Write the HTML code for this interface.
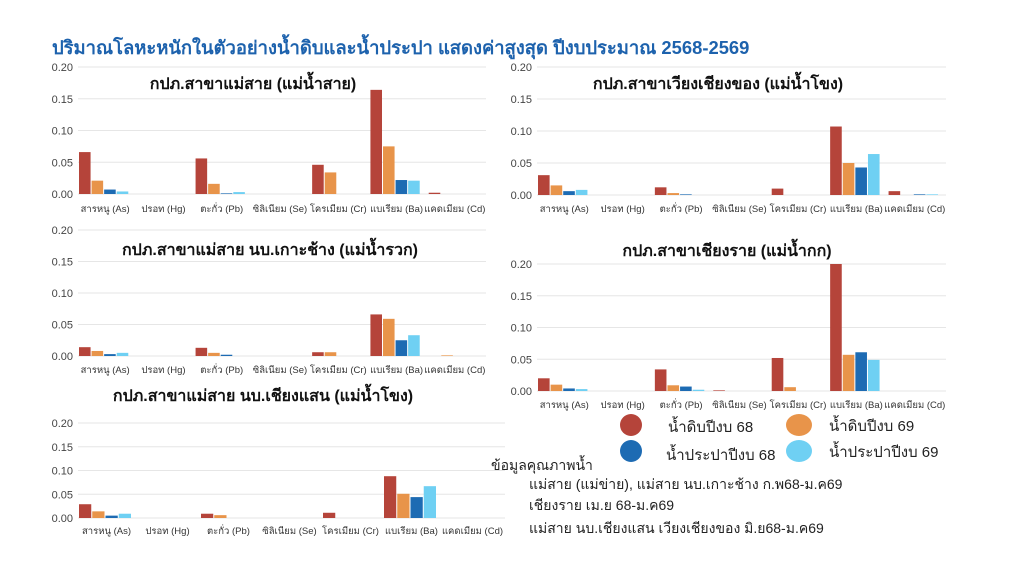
<!DOCTYPE html>
<html><head><meta charset="utf-8"><style>
body{margin:0;width:1024px;height:576px;background:#fff;overflow:hidden;font-family:"Liberation Sans",sans-serif;position:relative}
.t{position:absolute;white-space:nowrap}
</style></head><body>
<div class="t" style="left:52px;top:34px;font-size:18.4px;font-weight:bold;color:#1d62ad">ปริมาณโลหะหนักในตัวอย่างน้ำดิบและน้ำประปา แสดงค่าสูงสุด ปีงบประมาณ 2568-2569</div>
<svg id="s" width="1024" height="576" style="position:absolute;left:0;top:0"></svg>
<div class="t" style="left:620px;top:414px;width:22px;height:22px;border-radius:50%;background:#b5443a"></div>
<div class="t" style="left:668px;top:415px;font-size:15px;color:#222">น้ำดิบปีงบ 68</div>
<div class="t" style="left:786px;top:414px;width:26px;height:22px;border-radius:50%;background:#e8944a"></div>
<div class="t" style="left:829px;top:414px;font-size:15px;color:#222">น้ำดิบปีงบ 69</div>
<div class="t" style="left:620px;top:440px;width:22px;height:22px;border-radius:50%;background:#1d6bb3"></div>
<div class="t" style="left:666px;top:443px;font-size:15px;color:#222">น้ำประปาปีงบ 68</div>
<div class="t" style="left:786px;top:440px;width:26px;height:22px;border-radius:50%;background:#6fd0f3"></div>
<div class="t" style="left:829px;top:440px;font-size:15px;color:#222">น้ำประปาปีงบ 69</div>
<div class="t" style="left:491px;top:455px;font-size:14px;color:#222">ข้อมูลคุณภาพน้ำ</div>
<div class="t" style="left:529px;top:474px;font-size:14px;color:#222">แม่สาย (แม่ข่าย), แม่สาย นบ.เกาะช้าง ก.พ68-ม.ค69</div>
<div class="t" style="left:529px;top:495px;font-size:14px;color:#222">เชียงราย เม.ย 68-ม.ค69</div>
<div class="t" style="left:529px;top:518px;font-size:14px;color:#222">แม่สาย นบ.เชียงแสน เวียงเชียงของ มิ.ย68-ม.ค69</div>
<script>
const cols=["#b5443a","#e8944a","#1d6bb3","#6fd0f3"];
const cats=["สารหนู (As)","ปรอท (Hg)","ตะกั่ว (Pb)","ซิลิเนียม (Se)","โครเมียม (Cr)","แบเรียม (Ba)","แคดเมียม (Cd)"];
const charts=[
{x0:78,x1:486,y0:194,y20:67,ly:212,title:"กปภ.สาขาแม่สาย (แม่น้ำสาย)",tx:253,ty:89,
d:[[.066,.021,.007,.004],[0,0,0,0],[.056,.016,.001,.003],[0,0,0,0],[.046,.034,0,0],[.164,.075,.022,.021],[.002,0,0,0]]},
{x0:537,x1:946,y0:195,y20:67,ly:212,title:"กปภ.สาขาเวียงเชียงของ (แม่น้ำโขง)",tx:718,ty:89,
d:[[.031,.015,.006,.008],[0,0,0,0],[.012,.003,.001,0],[0,0,0,0],[.010,0,0,0],[.107,.050,.043,.064],[.006,0,.001,.001]]},
{x0:78,x1:486,y0:356,y20:230,ly:373,title:"กปภ.สาขาแม่สาย นบ.เกาะช้าง (แม่น้ำรวก)",tx:270,ty:255,
d:[[.014,.008,.003,.005],[0,0,0,0],[.013,.005,.002,0],[0,0,0,0],[.006,.006,0,0],[.066,.059,.025,.033],[0,.001,0,0]]},
{x0:537,x1:946,y0:391,y20:264,ly:408,title:"กปภ.สาขาเชียงราย (แม่น้ำกก)",tx:727,ty:256,
d:[[.020,.010,.004,.003],[0,0,0,0],[.034,.009,.007,.002],[.001,0,0,0],[.052,.006,0,0],[.2,.057,.061,.049],[0,0,0,0]]},
{x0:78,x1:505,y0:518,y20:423,ly:534,title:"กปภ.สาขาแม่สาย นบ.เชียงแสน (แม่น้ำโขง)",tx:263,ty:401,
d:[[.029,.014,.005,.009],[0,0,0,0],[.009,.006,0,0],[0,0,0,0],[.011,0,0,0],[.088,.051,.044,.067],[0,0,0,0]]}
];
let h="";
for(const c of charts){
 const H=c.y0-c.y20, W=(c.x1-c.x0)/7;
 for(let i=0;i<5;i++){const y=c.y0-H*i/4;
  h+=`<line x1="${c.x0}" x2="${c.x1}" y1="${y}" y2="${y}" stroke="#e6e6e6"/>`;
  h+=`<text x="${c.x0-5}" y="${y+4}" font-size="11" text-anchor="end" fill="#444">${(i*0.05).toFixed(2)}</text>`;}
 c.d.forEach((g,k)=>{const bw=(W-8)/4;
  g.forEach((v,j)=>{if(v>0){const bh=v/0.2*H;h+=`<rect x="${c.x0+1+k*W+j*bw}" y="${c.y0-bh}" width="${bw-1}" height="${bh}" fill="${cols[j]}"/>`;}});
  h+=`<text x="${c.x0+k*W+W/2-2}" y="${c.ly}" font-size="9.5" text-anchor="middle" fill="#333">${cats[k]}</text>`;});
 h+=`<text x="${c.tx}" y="${c.ty}" font-size="16" font-weight="bold" text-anchor="middle" fill="#111">${c.title}</text>`;
}
document.getElementById("s").innerHTML=h;
</script>
</body></html>
